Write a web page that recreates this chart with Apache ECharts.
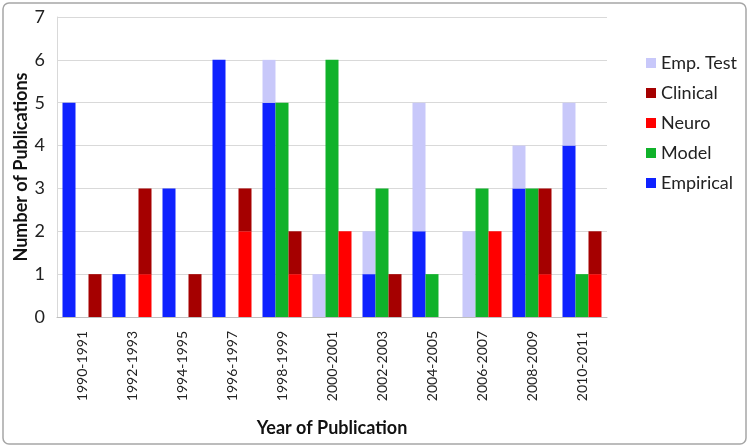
<!DOCTYPE html>
<html>
<head>
    <meta charset="UTF-8">
    <title>Publications per year</title>
    <script src="https://cdn.jsdelivr.net/npm/echarts@6/dist/echarts.min.js"></script>
    <style>
        html, body { margin: 0; padding: 0; background: #fff; }
    </style>
</head>
<body>
<div id="chart" style="width: 750px; height: 448px;"></div>
<script>
    // data
    var years = ['1990-1991', '1992-1993', '1994-1995', '1996-1997', '1998-1999', '2000-2001',
        '2002-2003', '2004-2005', '2006-2007', '2008-2009', '2010-2011'];
    var empirical = [5, 1, 3, 6, 5, 0, 1, 2, 0, 3, 4];
    var empTest   = [0, 0, 0, 0, 1, 1, 1, 3, 2, 1, 1];
    var model     = [0, 0, 0, 0, 5, 6, 3, 1, 3, 3, 1];
    var neuro     = [0, 1, 0, 2, 1, 2, 0, 0, 2, 1, 1];
    var clinical  = [1, 2, 1, 1, 1, 0, 1, 0, 0, 2, 1];
    var legendOrder = ['Emp. Test', 'Clinical', 'Neuro', 'Model', 'Empirical'];

    var font = 'Lato, "Open Sans", sans-serif';

    var chart = echarts.init(document.getElementById('chart'));

    function bar(name, stack, values, color) {
        return {
            name: name,
            type: 'bar',
            stack: stack,
            data: values,
            barGap: 0,
            barCategoryGap: '22%',
            itemStyle: { color: color },
            emphasis: { disabled: true }
        };
    }

    var option = {
        animation: false,
        textStyle: { fontFamily: font },
        graphic: [{
            type: 'rect',
            shape: { x: 3, y: 3, width: 743, height: 441, r: 6 },
            style: { fill: 'none', stroke: '#a6a6a6', lineWidth: 1.5 },
            silent: true
        }],
        grid: { left: 57, right: 143, top: 17, bottom: 131, outerBoundsMode: 'none' },
        legend: {
            data: legendOrder,
            orient: 'vertical',
            left: 641,
            top: 49,
            itemWidth: 10,
            itemHeight: 10,
            itemGap: 12,
            icon: 'rect',
            textStyle: { fontFamily: font, fontSize: 18, color: '#222' }
        },
        xAxis: {
            type: 'category',
            data: years,
            axisLine: { lineStyle: { color: '#bfbfbf' } },
            axisTick: { show: false },
            axisLabel: {
                rotate: 90,
                interval: 0,
                margin: 14,
                fontSize: 14,
                color: '#222',
                fontFamily: font
            },
            name: 'Year of Publication',
            nameLocation: 'middle',
            nameGap: 102,
            nameMoveOverlap: false,
            nameTextStyle: { fontSize: 18, fontWeight: 'bold', color: '#111', fontFamily: font }
        },
        yAxis: {
            type: 'value',
            min: 0,
            max: 7,
            interval: 1,
            axisLine: { show: true, lineStyle: { color: '#d9d9d9' } },
            splitLine: { lineStyle: { color: '#d9d9d9' } },
            axisLabel: { fontSize: 18, color: '#222', margin: 12, fontFamily: font },
            name: 'Number of Publications',
            nameLocation: 'middle',
            nameGap: 27,
            nameMoveOverlap: false,
            nameTextStyle: { fontSize: 18, fontWeight: 'bold', color: '#111', fontFamily: font }
        },
        series: [
            bar('Empirical', 'emp', empirical, '#0f22ff'),
            bar('Emp. Test', 'emp', empTest, '#c8c8fa'),
            bar('Model', 'model', model, '#10b22a'),
            bar('Neuro', 'neuro', neuro, '#ff0000'),
            bar('Clinical', 'neuro', clinical, '#a50000')
        ]
    };

    chart.setOption(option);
</script>
</body>
</html>
